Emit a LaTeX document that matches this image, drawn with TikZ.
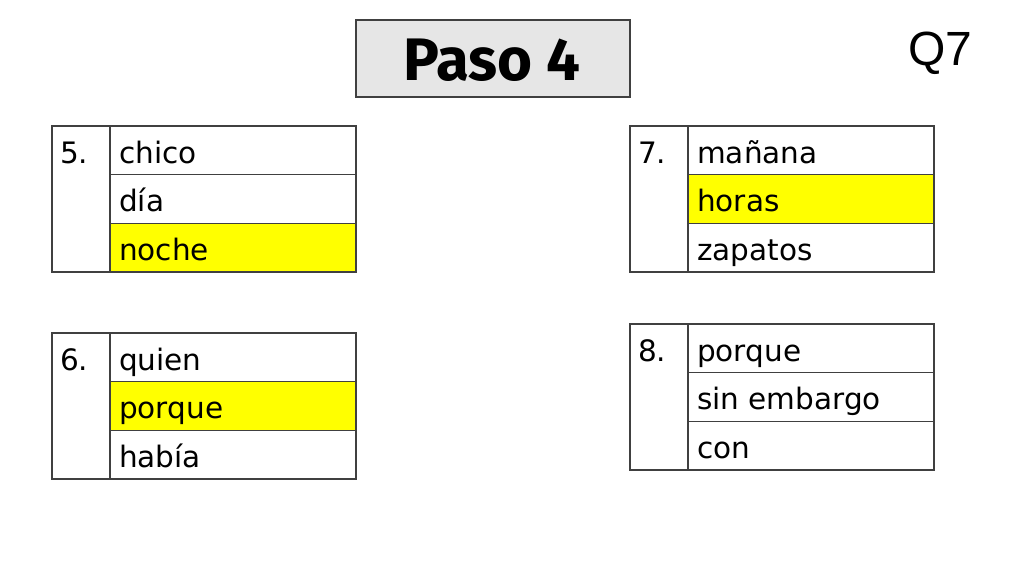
\documentclass[tikz,border=0pt]{standalone}
\usepackage{fontspec}
\setmainfont{DejaVu Sans}
\newfontfamily\titlefont{Fira Sans}
\newfontfamily\qfont{Liberation Sans}
\definecolor{edge}{HTML}{404040}
\definecolor{titlegray}{HTML}{E6E6E6}
\definecolor{hl}{HTML}{FFFF00}
\tikzset{
  tabline/.style={draw=edge, line width=1.3pt},
  word/.style={anchor=base west, inner sep=0pt, font=\fontsize{29.5}{34}\selectfont},
}
% #1 name, #2 x, #3 y top, #4 number, #5 #6 #7 words, #8 highlighted row (0 = none)
\newcommand{\wtab}[8]{%
  \ifnum#8>0
    \fill[hl] (#2+58,#3+48.7*#8-48.7) rectangle (#2+304,#3+48.7*#8);
  \fi
  \draw[tabline] (#2,#3) rectangle (#2+304,#3+146);
  \draw[tabline] (#2+58,#3) -- (#2+58,#3+146);
  \draw[tabline] (#2+58,#3+48.7) -- (#2+304,#3+48.7);
  \draw[tabline] (#2+58,#3+97.3) -- (#2+304,#3+97.3);
  \node[word] (#1n) at (#2+8,#3+37) {#4};
  \node[word] (#1a) at (#2+67,#3+37) {#5};
  \node[word] (#1b) at (#2+67,#3+85.5) {#6};
  \node[word] (#1c) at (#2+67,#3+134) {#7};
}
\begin{document}
\begin{tikzpicture}[x=1pt,y=-1pt]
\useasboundingbox[fill=white] (0,0) rectangle (1024,576);
% title
\node[draw=edge, line width=1.3pt, fill=titlegray, minimum width=274pt, minimum height=77pt, inner sep=0pt]
  (title) at (493,58.5) {};
\node[anchor=base, inner sep=0pt, font=\titlefont\bfseries\fontsize{60}{70}\selectfont] (titletext) at (492,80) {Paso 4};
\node[anchor=base, inner sep=0pt, font=\qfont\fontsize{48}{56}\selectfont] (q7) at (940,65) {Q7};
% tables
\wtab{t5}{52}{126}{5.}{chico}{día}{noche}{3}
\wtab{t6}{52}{333}{6.}{quien}{porque}{había}{2}
\wtab{t7}{630}{126}{7.}{mañana}{horas}{zapatos}{2}
\wtab{t8}{630}{324}{8.}{porque}{sin embargo}{con}{0}
\end{tikzpicture}
\end{document}
